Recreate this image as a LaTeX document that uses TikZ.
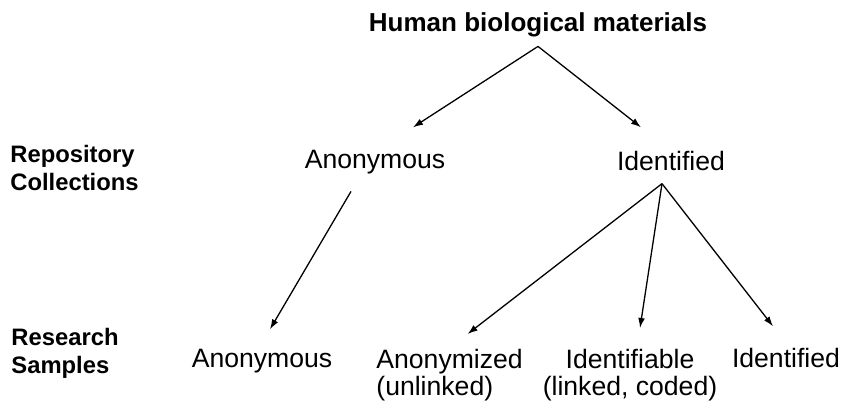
\documentclass[tikz,border=0pt]{standalone}
\usepackage{fontspec}
\setmainfont{Liberation Sans}
\usetikzlibrary{arrows.meta}

\begin{document}
\begin{tikzpicture}[x=0.5pt,y=-0.5pt,
txt/.style={inner sep=0pt,font=\fontsize{13.3}{13.5}\selectfont},
head/.style={txt,font=\fontsize{13}{13.5}\selectfont\bfseries},
side/.style={inner sep=0pt,align=left,anchor=north west,font=\fontsize{11.9}{13.75}\selectfont\bfseries},
arr/.style={-{Latex[length=5pt,width=3.4pt]},line width=0.65pt}]

\useasboundingbox (0,0) rectangle (842,406);

\node[head,anchor=base] (title) at (538,32) {Human biological materials};

\node[side] (repo) at (10,145) {Repository\\Collections};
\node[side] (res) at (11,328) {Research\\Samples};

\node[txt,anchor=base] (anonA) at (375,169) {Anonymous};
\node[txt,anchor=base] (identA) at (671,171) {Identified};

\node[txt,anchor=base] (anonB) at (262,368) {Anonymous};
\node[txt,anchor=north west,align=left] (anonz) at (376,349) {Anonymized\\(unlinked)};
\node[txt,anchor=north,align=center] (identz) at (630,349) {Identifiable\\(linked, coded)};
\node[txt,anchor=base] (identB) at (786,368) {Identified};

\draw[arr] ([yshift=-4.25pt]title.south) -- ([xshift=19pt,yshift=11.5pt]anonA.north);
\draw[arr] ([yshift=-4.25pt]title.south) -- ([xshift=-15pt,yshift=12pt]identA.north);
\draw[arr] ([xshift=-12pt,yshift=-8.25pt]anonA.south) -- ([xshift=4pt,yshift=10pt]anonB.north);
\draw[arr] ([xshift=-4.5pt,yshift=-6pt]identA.south) -- ([xshift=9pt,yshift=7.5pt]anonz.north);
\draw[arr] ([xshift=-4.5pt,yshift=-6pt]identA.south) -- ([xshift=5pt,yshift=10.5pt]identz.north);
\draw[arr] ([xshift=-4.5pt,yshift=-6pt]identA.south) -- ([xshift=-6.5pt,yshift=11pt]identB.north);

\end{tikzpicture}
\end{document}
